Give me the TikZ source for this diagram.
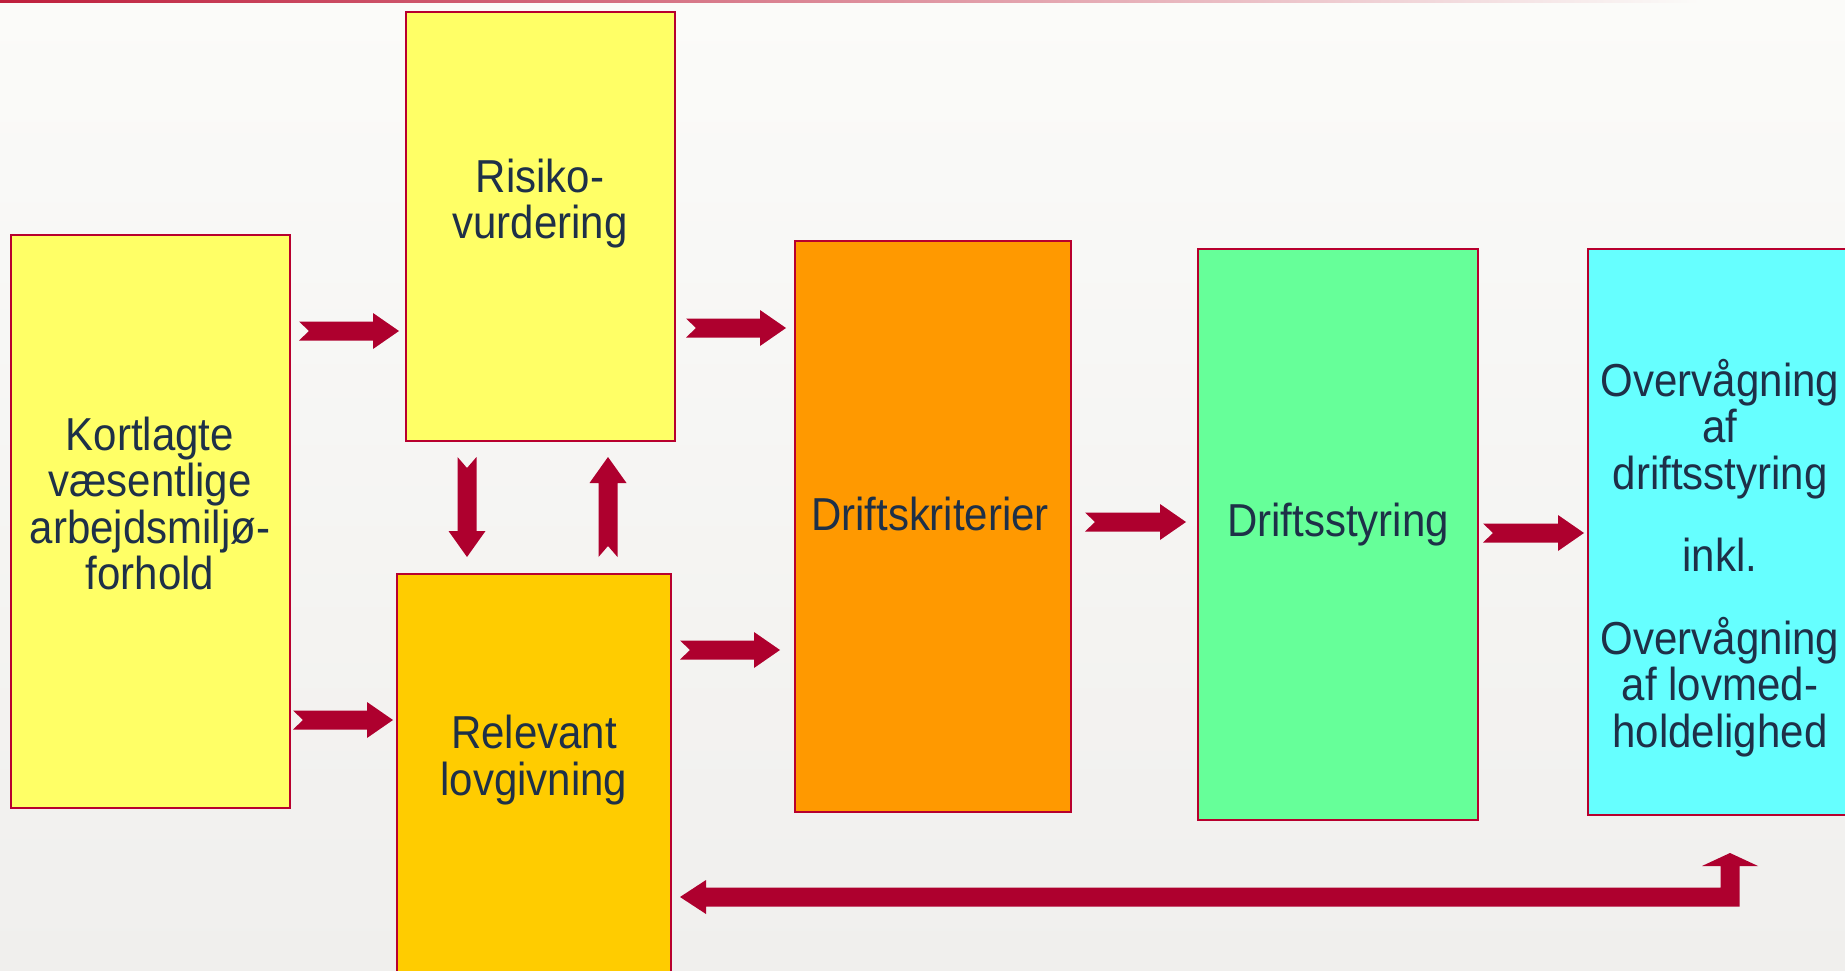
\documentclass[tikz,border=0pt]{standalone}
\usepackage{fontspec}
\setmainfont{Liberation Sans}
\newfontfamily\lfont[FakeStretch=0.909]{Liberation Sans}
\usetikzlibrary{calc}
\definecolor{bord}{RGB}{184,0,46}
\definecolor{arrc}{RGB}{174,0,46}
\definecolor{txtc}{RGB}{30,48,72}
\definecolor{bgtop}{RGB}{251,251,249}
\definecolor{bgbot}{RGB}{240,239,237}
\definecolor{topred}{RGB}{190,30,60}
\definecolor{ylw}{RGB}{255,255,102}
\definecolor{gold}{RGB}{255,204,0}
\definecolor{orng}{RGB}{255,153,0}
\definecolor{grn}{RGB}{102,255,153}
\definecolor{cyn}{RGB}{102,255,255}
\tikzset{
 box/.style={draw=bord, line width=2.2pt, rectangle, inner sep=0pt, outer sep=0pt},
 txt/.style={text=txtc, align=center, inner sep=0pt, font=\lfont\fontsize{46.2}{46.5}\selectfont},
 arr/.style={fill=arrc},
}
% right arrow: from node #1 (east) to node #2 (west), at y #3, gaps #4 and #5
\newcommand\arrR[5]{\fill[arr] let \p1=(#1.east), \p2=(#2.west), \p3=(0,#3) in
 (\x1+#4pt,\y3+9.5pt) -- (\x2-#5pt-26pt,\y3+9.5pt) -- (\x2-#5pt-26pt,\y3+18pt) -- (\x2-#5pt,\y3)
 -- (\x2-#5pt-26pt,\y3-18pt) -- (\x2-#5pt-26pt,\y3-9.5pt) -- (\x1+#4pt,\y3-9.5pt) -- (\x1+#4pt+10pt,\y3) -- cycle;}
\begin{document}
\begin{tikzpicture}[x=1pt,y=-1pt]
\useasboundingbox (0,0) rectangle (1845,971);
\clip (0,0) rectangle (1845,971);
\shade[top color=bgtop, bottom color=bgbot] (0,0) rectangle (1845,971);
\shade[left color=topred, right color=bgtop] (0,0) rectangle (1700,3);

% boxes
\node[box, fill=ylw, minimum width=279pt, minimum height=573pt] (k) at (150.5,521.5) {};
\node[box, fill=ylw, minimum width=269pt, minimum height=429pt] (r) at (540.5,226.5) {};
\node[box, fill=gold, minimum width=274pt, minimum height=426pt] (l) at (534,787) {};
\node[box, fill=orng, minimum width=276pt, minimum height=571pt] (d) at (933,526.5) {};
\node[box, fill=grn, minimum width=280pt, minimum height=571pt] (s) at (1338,534.5) {};
\node[box, fill=cyn, minimum width=282pt, minimum height=566pt] (o) at (1729,532) {};

% texts
\node[txt] (tk) at (150,503.5) {Kortlagte\\væsentlige\\arbejdsmiljø-\\forhold};
\node[txt] (tr) at (540,203.5) {Risiko-\\vurdering};
\node[txt] (tl) at (534,760) {Relevant\\lovgivning};
\node[txt] (td) at (930,514) {Driftskriterier};
\node[txt] (ts) at (1338,524.5) {Driftsstyring};
\node[txt] (tov) at (1720,558) {Overvågning\\af\\driftsstyring\\[36pt]inkl.\\[36pt]Overvågning\\af lovmed-\\holdelighed};

% horizontal arrows
\arrR{k}{r}{331}{9}{7}
\arrR{k}{l}{720}{3}{4}
\arrR{r}{d}{328}{11}{9}
\arrR{l}{d}{650}{9}{15}
\arrR{d}{s}{522}{14}{12}
\arrR{s}{o}{533}{5}{4}

% down arrow r -> l
\fill[arr] let \p1=(r.south), \p2=(l.north), \p3=(467,0) in
 (\x3-9.5pt,\y1-16pt) -- (\x3-9.5pt,\y2+43pt) -- (\x3-18.5pt,\y2+43pt) -- (\x3,\y2+17pt)
 -- (\x3+18.5pt,\y2+43pt) -- (\x3+9.5pt,\y2+43pt) -- (\x3+9.5pt,\y1-16pt) -- (\x3,\y1-27pt) -- cycle;
% up arrow l -> r
\fill[arr] let \p1=(r.south), \p2=(l.north), \p3=(608,0) in
 (\x3-9.5pt,\y2+17pt) -- (\x3-9.5pt,\y1-42pt) -- (\x3-18.5pt,\y1-42pt) -- (\x3,\y1-16pt)
 -- (\x3+18.5pt,\y1-42pt) -- (\x3+9.5pt,\y1-42pt) -- (\x3+9.5pt,\y2+17pt) -- (\x3,\y2+28pt) -- cycle;

% feedback arrow o -> l
\fill[arr] let \p1=(o.south), \p2=(l.east), \p3=(1730,897) in
 (\x2+9pt,\y3) -- (\x2+35pt,\y3+17pt) -- (\x2+35pt,\y3+9.5pt) -- (\x3-9.5pt,\y3+9.5pt)
 -- (\x3-9.5pt,\y1-51pt) -- (\x3-28pt,\y1-51pt) -- (\x3,\y1-38pt) -- (\x3+28pt,\y1-51pt)
 -- (\x3+9.5pt,\y1-51pt) -- (\x3+9.5pt,\y3-9.5pt) -- (\x2+35pt,\y3-9.5pt) -- (\x2+35pt,\y3-17pt) -- cycle;
\end{tikzpicture}
\end{document}
